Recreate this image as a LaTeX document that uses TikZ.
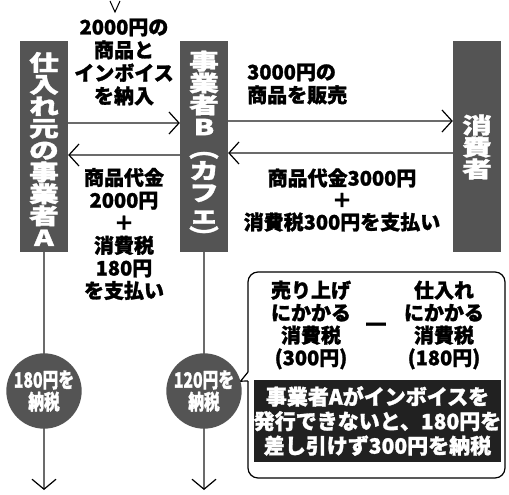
\documentclass[tikz,border=0pt]{standalone}
\usepackage{fontspec}
\setmainfont{Noto Sans CJK JP}[BoldFeatures={FakeBold=1.3}]
\usepackage{graphicx}
\usetikzlibrary{arrows.meta}
\definecolor{barfill}{gray}{0.33}
\definecolor{boxfill}{gray}{0.13}
\definecolor{flowgray}{gray}{0.42}
\newcommand\tatebox[1]{\scalebox{1.35}[1]{\parbox{1.2em}{\centering\baselineskip=21.9pt\lineskiplimit=-100pt #1\par}}}
\newcommand\vparL{\rotatebox[origin=c]{-90}{（}}
\newcommand\vparR{\rotatebox[origin=c]{-90}{）}}
\begin{document}
\begin{tikzpicture}[x=1pt,y=-1pt,
  bar/.style={fill=barfill, minimum width=48pt, minimum height=211pt, inner sep=0pt, anchor=north},
  vch/.style={text=white, font=\fontsize{22}{21.9}\selectfont\bfseries, inner sep=0pt},
  coin/.style={circle, fill=barfill, minimum size=59pt, inner sep=0pt, text=white,
    font=\fontsize{21}{22}\selectfont\bfseries, align=center},
  lbl/.style={font=\fontsize{20}{23}\selectfont\bfseries, align=center, inner sep=0pt},
  flow/.style={draw=flowgray, line width=1.8pt,
    -{Straight Barb[length=10pt,width=22pt,line width=1.2pt,color=black]}},
  vflow/.style={draw=flowgray, line width=2.6pt},
  vend/.style={vflow, -{Straight Barb[length=10pt,width=24pt,line width=1.2pt,color=black]}},
  warnbox/.style={fill=boxfill, minimum width=245pt, minimum height=82pt, inner sep=0pt,
    text=white, font=\fontsize{21}{24.5}\selectfont\bfseries, align=center},
]
\useasboundingbox (0,0) rectangle (509,495);

% bars
\node[bar] (A) at (44,41) {};
\node[bar] (B) at (204,41) {};
\node[bar] (C) at (477,41) {};
\node[vch] (At) at (44,149) {\tatebox{仕\\入\\れ\\元\\の\\事\\業\\者\\A}};
\node[vch] (Bt) at (204,149) {\tatebox{事\\業\\者\\B\\\vparL\\カ\\フ\\ェ\\\vparR}};
\node[vch] (Ct) at (477,147) {\tatebox{消\\費\\者}};

% level coordinates
\coordinate (y1) at (0,123);
\coordinate (y2) at (0,121);
\coordinate (y3) at (0,155);
\coordinate (y4) at (0,153);

% horizontal flows
\draw[flow] (A.east |- y1) -- (B.west |- y1);
\draw[flow] (B.east |- y2) -- (C.west |- y2);
\draw[flow] (B.west |- y3) -- (A.east |- y3);
\draw[flow] (C.west |- y4) -- (B.east |- y4);

% circles and vertical flows
\coordinate (e1) at (44,490);
\coordinate (e2) at (204,490);
\draw[vflow] (A.south) -- (44,391);
\draw[vend] (44,391) -- (e1);
\draw[vflow] (B.south) -- (204,391);
\draw[vend] (204,391) -- (e2);
\node[coin] (c1) at (44,391) {\scalebox{0.75}[1]{\parbox{4em}{\centering\baselineskip=22pt\lineskiplimit=-100pt 180円を\\納税\par}}};
\node[coin] (c2) at (204,391) {\scalebox{0.75}[1]{\parbox{4em}{\centering\baselineskip=22pt\lineskiplimit=-100pt 120円を\\納税\par}}};

% small mark at top
\coordinate (v1) at (110,1);
\coordinate (v2) at (115,12);
\coordinate (v3) at (120,1);
\draw[line width=1pt] (v1) -- (v2) -- (v3);

% labels
\node[lbl] (t1) at (124,62) {2000円の\\商品と\\インボイス\\を納入};
\node[lbl, align=left, anchor=west] (t2) at (247,84) {3000円の\\商品を販売};
\node[lbl, font=\fontsize{20}{22.6}\selectfont\bfseries] (t3) at (124,234) {商品代金\\2000円\\＋\\消費税\\180円\\を支払い};
\node[lbl, font=\fontsize{20}{22}\selectfont\bfseries] (t4) at (342,200) {商品代金3000円\\＋\\消費税300円を支払い};

% callout box
\coordinate (p1) at (248,372);
\coordinate (p2) at (248,381);
\draw[line width=1.2pt, rounded corners=10pt] (p2) -- (248,478) -- (505,478) -- (505,272) -- (248,272) -- (p1);
\draw[line width=1.2pt, line join=round] (p1) -- (c2.15) -- (p2);

\node[lbl, font=\fontsize{20}{22.5}\selectfont\bfseries] (t5) at (311,325) {売り上げ\\にかかる\\消費税\\(300円)};
\node[lbl, font=\fontsize{20}{22.5}\selectfont\bfseries] (t6) at (444,325) {仕入れ\\にかかる\\消費税\\(180円)};
\node[lbl, font=\fontsize{24}{24}\selectfont\bfseries] (minus) at (376,327) {—};
\node[warnbox] (w) at (377.5,421) {事業者Aがインボイスを\\発行できないと、180円を\\差し引けず300円を納税};
\end{tikzpicture}
\end{document}
